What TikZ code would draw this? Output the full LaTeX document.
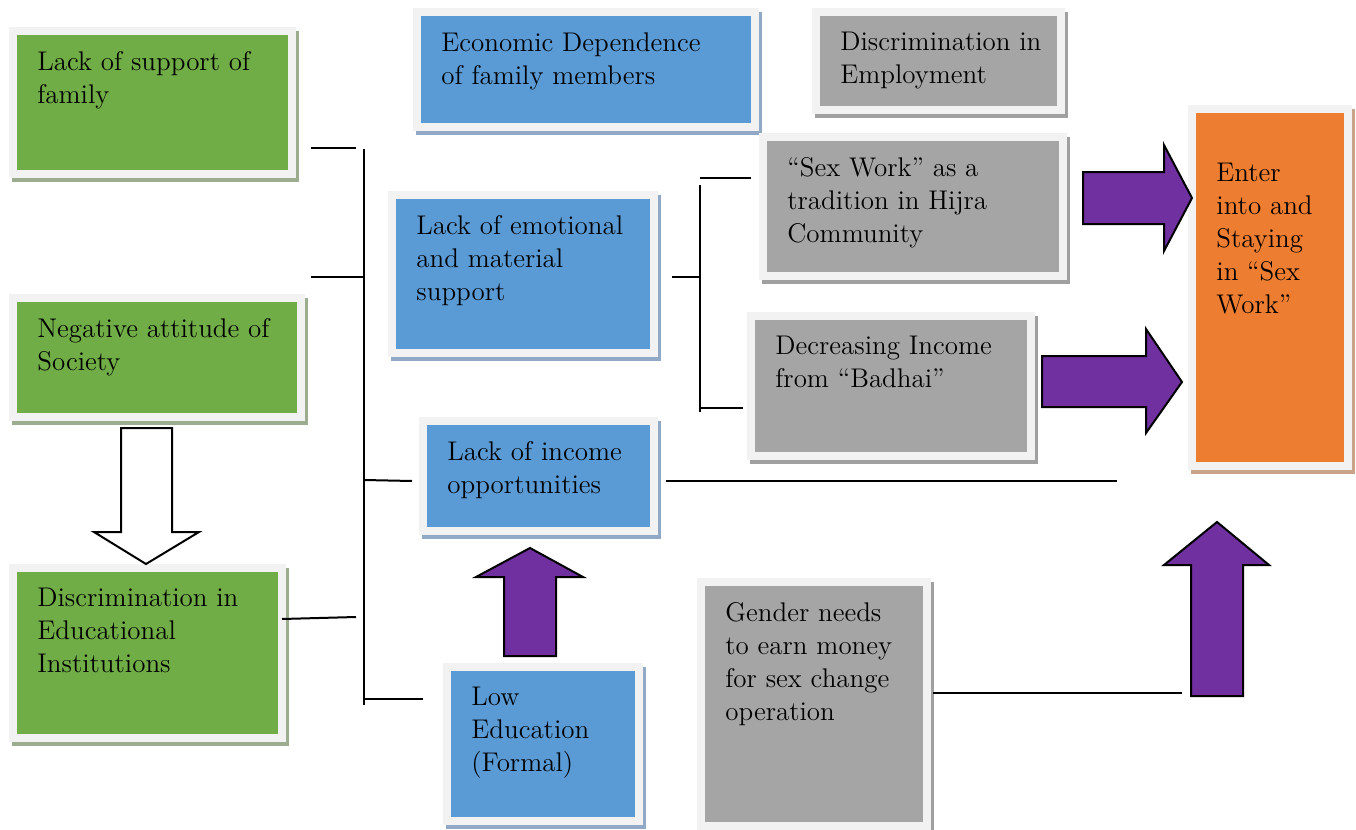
\documentclass[tikz,border=0pt]{standalone}
\usepackage{tikz}
\usetikzlibrary{shadows}

\definecolor{boxgreen}{HTML}{70AD47}
\definecolor{boxblue}{HTML}{5B9BD5}
\definecolor{boxgray}{HTML}{A5A5A5}
\definecolor{boxorange}{HTML}{ED7D31}
\definecolor{arrowpurple}{HTML}{7030A0}
\definecolor{framegray}{HTML}{F2F2F2}
\definecolor{shadegreen}{HTML}{9CAC8E}
\definecolor{shadeblue}{HTML}{91A9C6}
\definecolor{shadegray}{HTML}{A0A0A0}
\definecolor{shadeorange}{HTML}{C9A389}

\begin{document}
\begin{tikzpicture}[x=0.5pt, y=-0.5pt,
	every node/.style={font=\fontsize{13.5}{16.5}\selectfont},
	factor/.style={draw=framegray, line width=4pt, inner sep=0pt, outer sep=0pt},
	greenbox/.style={factor, fill=boxgreen, general shadow={fill=shadegreen, draw=shadegreen, line width=4pt, shadow xshift=1.5pt, shadow yshift=-2pt}},
	bluebox/.style={factor, fill=boxblue, general shadow={fill=shadeblue, draw=shadeblue, line width=4pt, shadow xshift=1.5pt, shadow yshift=-2pt}},
	graybox/.style={factor, fill=boxgray, general shadow={fill=shadegray, draw=shadegray, line width=4pt, shadow xshift=1.5pt, shadow yshift=-2pt}},
	orangebox/.style={factor, fill=boxorange, general shadow={fill=shadeorange, draw=shadeorange, line width=4pt, shadow xshift=1.5pt, shadow yshift=-2pt}},
	boxtext/.style={anchor=north west, align=left, inner sep=0pt, xshift=12pt, yshift=-10pt},
	link/.style={line width=1pt},
	blockarrow/.style={fill=arrowpurple, draw=black, line width=1pt, line join=miter},
	]
	\useasboundingbox (0,0) rectangle (1356,830);

	% causes
	\node[greenbox, minimum width=139.5pt, minimum height=71.5pt, label={[boxtext]north west:{Lack of support of\\family}}] (famsupport) at (152.5,102.5) {};
	\node[greenbox, minimum width=144pt, minimum height=59.5pt, label={[boxtext]north west:{Negative attitude of\\Society}}] (negattitude) at (157,357.5) {};
	\node[greenbox, minimum width=134.5pt, minimum height=85pt, label={[boxtext]north west:{Discrimination in\\Educational\\Institutions}}] (discedu) at (147.5,653) {};
	\node[bluebox, minimum width=169pt, minimum height=57.5pt, label={[boxtext]north west:{Economic Dependence\\of family members}}] (ecodep) at (586,69.5) {};
	\node[graybox, minimum width=122.5pt, minimum height=49pt, label={[boxtext]north west:{Discrimination in\\Employment}}] (discemp) at (938.5,61) {};
	\node[bluebox, minimum width=131pt, minimum height=79pt, label={[boxtext]north west:{Lack of emotional\\and material\\support}}] (emosupport) at (523,274) {};
	\node[bluebox, minimum width=115.5pt, minimum height=55pt, label={[boxtext]north west:{Lack of income\\opportunities}}] (incomeopp) at (538.5,476) {};
	\node[bluebox, minimum width=96pt, minimum height=77pt, label={[boxtext]north west:{Low\\Education\\(Formal)}}] (lowedu) at (543,744) {};
	\node[graybox, minimum width=150pt, minimum height=69.5pt, label={[boxtext]north west:{``Sex Work'' as a\\tradition in Hijra\\Community}}] (sextradition) at (913,206.5) {};
	\node[graybox, minimum width=140pt, minimum height=70pt, label={[boxtext]north west:{Decreasing Income\\from ``Badhai''}}] (badhai) at (891,386) {};
	\node[graybox, minimum width=113pt, minimum height=122pt, label={[boxtext]north west:{Gender needs\\to earn money\\for sex change\\operation}}] (sexchange) at (814,704) {};
	\node[orangebox, minimum width=78pt, minimum height=178.5pt, label={[boxtext, yshift=-17pt]north west:{Enter\\into and\\Staying\\in ``Sex\\Work''}}] (sexwork) at (1270,287.5) {};

	% block arrows
	\draw[line width=1pt, fill=white] (121,428) -- (172,428) -- (172,532) -- (199,532) -- (146,564) -- (94,532) -- (121,532) -- cycle;
	\draw[blockarrow] (1083,172) -- (1164,172) -- (1164,145) -- (1192,198) -- (1164,251) -- (1164,224) -- (1083,224) -- cycle;
	\draw[blockarrow] (1042,356) -- (1146,356) -- (1146,329) -- (1182,382) -- (1146,433) -- (1146,407) -- (1042,407) -- cycle;
	\draw[blockarrow] (1191,696) -- (1191,565) -- (1164,565) -- (1217,522) -- (1269,565) -- (1243,565) -- (1243,696) -- cycle;
	\draw[blockarrow] (504,656) -- (504,577) -- (476,577) -- (530,548) -- (583,577) -- (556,577) -- (556,656) -- cycle;

	% bracket lines
	\coordinate (famend) at (311,148);
	\coordinate (famjoin) at (356,148);
	\coordinate (bartop) at (364,149);
	\coordinate (barbottom) at (364,705);
	\coordinate (socend) at (311,277);
	\coordinate (socjoin) at (364,277);
	\coordinate (eduend) at (282,619);
	\coordinate (edujoin) at (356,617);
	\coordinate (incjoin) at (364,480);
	\coordinate (incend) at (412,481);
	\coordinate (lowjoin) at (364,699);
	\coordinate (lowend) at (423,699);
	\draw[link] (famend) -- (famjoin);
	\draw[link] (bartop) -- (barbottom);
	\draw[link] (socend) -- (socjoin);
	\draw[link] (eduend) -- (edujoin);
	\draw[link] (incjoin) -- (incend);
	\draw[link] (lowjoin) -- (lowend);

	\coordinate (hijratop) at (700,185);
	\coordinate (hijrabottom) at (700,412);
	\coordinate (hijrafrom) at (672,277);
	\coordinate (hijrajoin) at (700,277);
	\coordinate (tradjoin) at (700,178);
	\coordinate (tradend) at (751,178);
	\coordinate (badjoin) at (700,408);
	\coordinate (badend) at (743,408);
	\draw[link] (hijratop) -- (hijrabottom);
	\draw[link] (hijrafrom) -- (hijrajoin);
	\draw[link] (tradjoin) -- (tradend);
	\draw[link] (badjoin) -- (badend);

	\coordinate (oppstart) at (666,481);
	\coordinate (oppend) at (1117,481);
	\coordinate (genstart) at (933,693);
	\coordinate (genend) at (1182,693);
	\draw[link] (oppstart) -- (oppend);
	\draw[link] (genstart) -- (genend);
\end{tikzpicture}
\end{document}
